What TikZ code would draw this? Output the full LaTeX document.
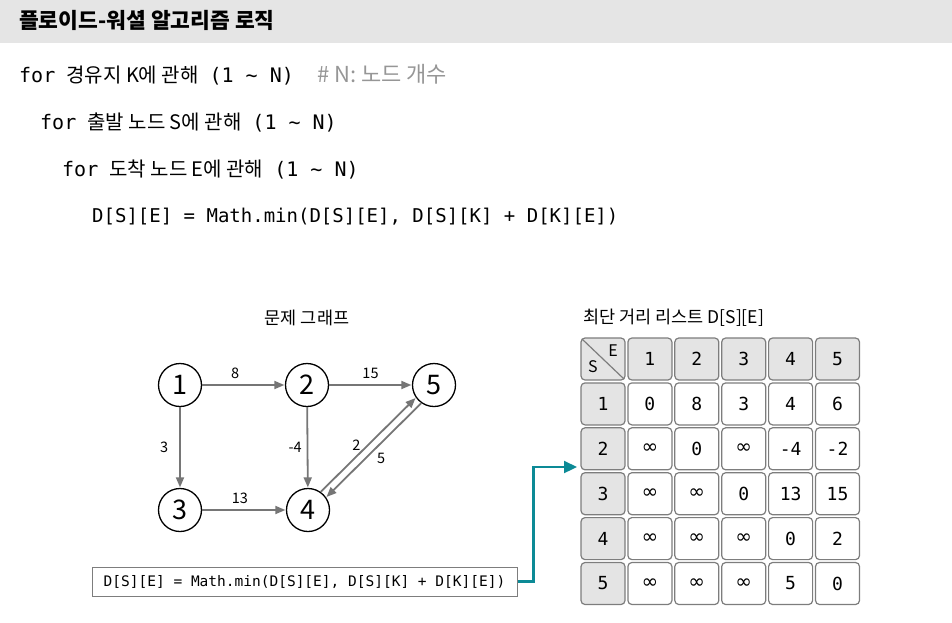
\documentclass[tikz,border=0pt]{standalone}
\usepackage{fontspec}
\setmainfont{Noto Sans CJK KR}
\newfontfamily\codefont{DejaVu Sans Mono}
\newfontfamily\symfont{DejaVu Sans}
\usetikzlibrary{arrows.meta, positioning}
\definecolor{bargray}{RGB}{229,229,229}
\definecolor{edgegray}{RGB}{118,118,118}
\definecolor{cellgray}{RGB}{125,125,125}
\definecolor{headgray}{RGB}{228,228,228}
\definecolor{notegray}{RGB}{150,150,150}
\definecolor{linkteal}{RGB}{12,138,150}
\newcommand{\inft}{{\symfont\fontsize{20}{20}\selectfont ∞}}
\newcommand{\kw}[1]{{\codefont\fontsize{20}{20}\selectfont #1}}
\tikzset{
  titletext/.style  = {anchor=base west, inner sep=0pt,
                       font=\fontsize{21.5}{22}\selectfont\bfseries},
  codeline/.style   = {anchor=base west, inner sep=0pt,
                       font=\fontsize{20}{21}\selectfont},
  notetext/.style   = {anchor=base west, inner sep=0pt, text=notegray,
                       font=\fontsize{22}{22}\selectfont},
  captext/.style    = {inner sep=0pt, font=\fontsize{17.5}{18}\selectfont},
  vertex/.style     = {circle, draw, line width=1.3pt, minimum size=43pt,
                       inner sep=0pt, font=\fontsize{27}{27}\selectfont},
  edge/.style       = {-{Triangle[length=10pt,width=8pt]}, draw=edgegray,
                       line width=1.8pt, shorten >=0.5pt},
  wlabel/.style     = {inner sep=1pt, font=\fontsize{14.5}{15}\selectfont},
  headcell/.style   = {rectangle, rounded corners=4pt, draw=cellgray,
                       fill=headgray, line width=1.2pt, minimum width=44pt,
                       minimum height=42pt, inner sep=0pt,
                       font=\codefont\fontsize{18}{18}\selectfont},
  valcell/.style    = {headcell, fill=white},
  formulabox/.style = {rectangle, draw=cellgray, line width=1pt,
                       minimum width=425pt, minimum height=29pt, inner sep=0pt,
                       font=\codefont\fontsize{14.5}{15}\selectfont},
  link/.style       = {-{Triangle[length=13pt,width=12pt]}, draw=linkteal,
                       line width=2.2pt}
}

\begin{document}
\begin{tikzpicture}[x=1pt, y=-1pt]
  \useasboundingbox (0,0) rectangle (952,622);
  \fill[bargray] (0,0) rectangle (952,43);

  % pseudo code
  \node[titletext] (title) at (19,28) {플로이드-워셜 알고리즘 로직};
  \node[codeline] (loopk) at (19,82)
    {\kw{for}\hspace{11pt}경유지 K에 관해\hspace{11pt}\kw{(1 \textasciitilde\ N)}};
  \node[notetext] (note) at (317,82) {\# N: 노드 개수};
  \node[codeline] (loops) at (40,129)
    {\kw{for}\hspace{11pt}출발 노드 S에 관해\hspace{11pt}\kw{(1 \textasciitilde\ N)}};
  \node[codeline] (loope) at (62,176)
    {\kw{for}\hspace{11pt}도착 노드 E에 관해\hspace{11pt}\kw{(1 \textasciitilde\ N)}};
  \node[codeline, font=\codefont\fontsize{19}{19}\selectfont] (update) at (92,222)
    {D[S][E] = Math.min(D[S][E], D[S][K] + D[K][E])};

  % graph
  \node[captext] (gcap) at (307,318) {문제 그래프};
  \node[vertex] (n1) at (180,385) {1};
  \node[vertex] (n2) at (307,385) {2};
  \node[vertex] (n5) at (434,385) {5};
  \node[vertex] (n3) at (180,510) {3};
  \node[vertex] (n4) at (308,510) {4};
  \draw[edge] (n1) -- node[wlabel, above=4pt, pos=0.4] {8} (n2);
  \draw[edge] (n2) -- node[wlabel, above=4pt] {15} (n5);
  \draw[edge] (n1) -- node[wlabel, left=10pt] {3} (n3);
  \draw[edge] (n2) -- node[wlabel, left=4pt] {-4} (n4);
  \draw[edge] (n3) -- node[wlabel, above=4pt, pos=0.45] {13} (n4);
  \draw[edge] (n4.55) -- node[wlabel, left=6pt] {2} (n5.215);
  \draw[edge] (n5.235) -- node[wlabel, below right=2pt] {5} (n4.35);

  % distance table
  \node[captext, anchor=west] (tcap) at (583,318) {최단 거리 리스트 D[S][E]};
  \node[headcell] (c00) at (603,359) {};
  \draw[cellgray, line width=1.2pt] ([shift={(1.5,1.5)}]c00.north west) -- ([shift={(-1.5,-1.5)}]c00.south east);
  \node[font=\fontsize{16}{16}\selectfont, inner sep=0pt] (lbls) at (593,367) {S};
  \node[font=\fontsize{16}{16}\selectfont, inner sep=0pt] (lble) at (613,351) {E};
  \foreach \c in {1,...,5}
    \node[headcell] (c0\c) at (603+46.9*\c,359) {\c};
  \foreach \r/\vals in {1/{0,8,3,4,6},
                        2/{\inft,0,\inft,-4,-2},
                        3/{\inft,\inft,0,13,15},
                        4/{\inft,\inft,\inft,0,2},
                        5/{\inft,\inft,\inft,5,0}} {
    \node[headcell] (c\r0) at (603,359+44.9*\r) {\r};
    \foreach \v [count=\c] in \vals
      \node[valcell] (c\r\c) at (603+46.9*\c,359+44.9*\r) {\v};
  }

  % formula box and link
  \node[formulabox] (formula) at (304.5,581.5) {D[S][E] = Math.min(D[S][E], D[S][K] + D[K][E])};
  \coordinate (tip) at (577,467);
  \draw[link] (formula.east) -- ++(16,0) |- (tip);
\end{tikzpicture}
\end{document}
